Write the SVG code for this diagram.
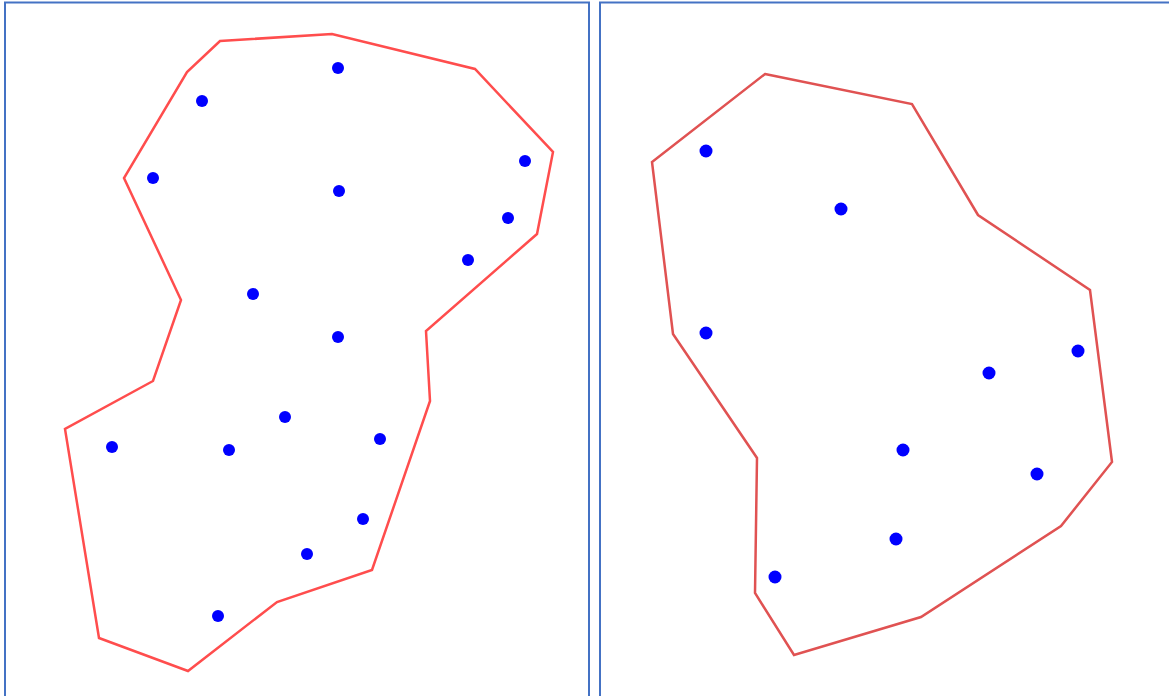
<svg xmlns="http://www.w3.org/2000/svg" width="1169" height="696" viewBox="0 0 1169 696">
<style>
.frame{fill:none;stroke:#4472C4;stroke-width:2}
.hullL{fill:none;stroke:#FF4D4D;stroke-width:2.5;stroke-linejoin:miter}
.hullR{fill:none;stroke:#E05252;stroke-width:2.5;stroke-linejoin:miter}
.pt{fill:#0000FF}
</style>
<rect width="1169" height="696" fill="#FFFFFF"/>
<g id="panel-left">
<rect class="frame" x="5" y="2.5" width="584" height="710"/>
<polygon class="hullL" points="220,41 332,34 475,69 553,152 537,234 426,331 430,401 372,570 277,602 188,671 99,638 65,429 153,381 181,300 124,178 187,72"/>
<g class="pt">
<circle cx="338" cy="68" r="6"/><circle cx="202" cy="101" r="6"/><circle cx="153" cy="178" r="6"/><circle cx="339" cy="191" r="6"/>
<circle cx="525" cy="161" r="6"/><circle cx="508" cy="218" r="6"/><circle cx="468" cy="260" r="6"/><circle cx="253" cy="294" r="6"/>
<circle cx="338" cy="337" r="6"/><circle cx="285" cy="417" r="6"/><circle cx="112" cy="447" r="6"/><circle cx="229" cy="450" r="6"/>
<circle cx="380" cy="439" r="6"/><circle cx="363" cy="519" r="6"/><circle cx="307" cy="554" r="6"/><circle cx="218" cy="616" r="6"/>
</g>
</g>
<g id="panel-right">
<rect class="frame" x="600" y="2.5" width="600" height="710"/>
<polygon class="hullR" points="765,74 912,104 978,215 1090,290 1112,462 1061,526 921,617 794,655 755,593 757,458 673,334 652,162"/>
<g class="pt">
<circle cx="706" cy="151" r="6.5"/><circle cx="841" cy="209" r="6.5"/><circle cx="706" cy="333" r="6.5"/><circle cx="1078" cy="351" r="6.5"/>
<circle cx="989" cy="373" r="6.5"/><circle cx="903" cy="450" r="6.5"/><circle cx="1037" cy="474" r="6.5"/><circle cx="896" cy="539" r="6.5"/>
<circle cx="775" cy="577" r="6.5"/>
</g>
</g>
<g id="connectors"></g>
</svg>
